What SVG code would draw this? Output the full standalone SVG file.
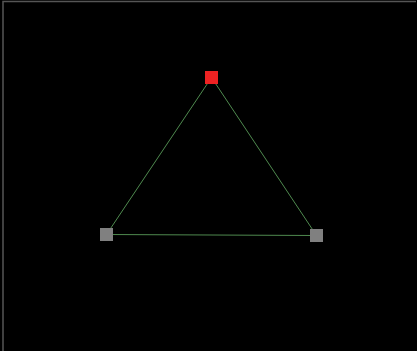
<svg xmlns="http://www.w3.org/2000/svg" width="417" height="351" viewBox="0 0 417 351">
<style>
.edge{stroke:#4f8a4f;stroke-width:1;fill:none}
.frame{stroke:#555;stroke-width:1.5;fill:none}
.gray{fill:#808080}
.red{fill:#ee2222}
</style>
<rect x="0" y="0" width="417" height="351" fill="#000"/>
<path class="frame" d="M3,351 V1.5 H416"/>
<g id="connectors">
<line class="edge" x1="211.5" y1="77.5" x2="106.5" y2="234.5"/>
<line class="edge" x1="211.5" y1="77.5" x2="316.5" y2="235.5"/>
<line class="edge" x1="106.5" y1="234.5" x2="316.5" y2="235.5"/>
</g>
<g id="node-top"><rect class="red" x="205" y="71" width="13" height="13"/></g>
<g id="node-left"><rect class="gray" x="100" y="228" width="13" height="13"/></g>
<g id="node-right"><rect class="gray" x="310" y="229" width="13" height="13"/></g>
</svg>
